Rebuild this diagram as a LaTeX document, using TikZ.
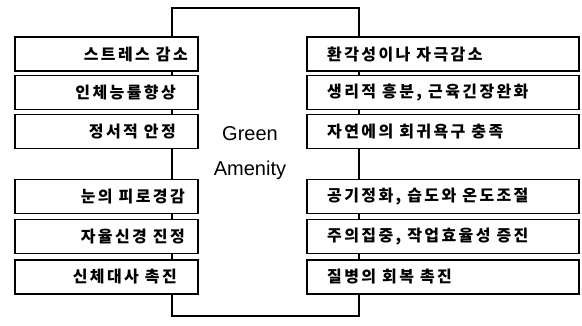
\documentclass[tikz,border=0pt]{standalone}
\usepackage{fontspec}
\setmainfont{Liberation Sans}
\newfontfamily\kr{Noto Sans CJK KR}[LetterSpace=15]
\tikzset{
  frame/.style={draw=black, line width=2pt, minimum width=187pt, minimum height=308pt, inner sep=0pt},
  lbox/.style={draw=black, fill=white, line width=1.3pt, minimum width=183pt, minimum height=34pt, inner sep=0pt},
  rbox/.style={draw=black, fill=white, line width=1.3pt, minimum width=272pt, minimum height=34pt, inner sep=0pt},
  ktxt/.style={font=\kr\bfseries\fontsize{16}{18}\selectfont, inner sep=0pt},
  gtxt/.style={font=\fontsize{20}{22}\selectfont, inner sep=0pt}
}
\begin{document}
\begin{tikzpicture}[x=1pt,y=-1pt]
\useasboundingbox (0,0) rectangle (582,325);
\node[frame] (amen) at (265.5,161.5) {};
% left boxes
\node[lbox] (l1) at (106.5,54) {};
\node[lbox] (l2) at (106.5,92.5) {};
\node[lbox] (l3) at (106.5,131.5) {};
\node[lbox] (l4) at (106.5,196.5) {};
\node[lbox] (l5) at (106.5,236.5) {};
\node[lbox] (l6) at (106.5,277) {};
% right boxes
\node[rbox] (r1) at (443,54) {};
\node[rbox] (r2) at (443,92.5) {};
\node[rbox] (r3) at (443,131.5) {};
\node[rbox] (r4) at (443,196.5) {};
\node[rbox] (r5) at (443,236.5) {};
\node[rbox] (r6) at (443,277) {};
% left texts
\node[ktxt, anchor=east] (tl1) at (188,54) {스트레스 감소};
\node[ktxt, anchor=east] (tl2) at (176,92.5) {인체능률향상};
\node[ktxt, anchor=east] (tl3) at (176,131.5) {정서적 안정};
\node[ktxt, anchor=east] (tl4) at (185,196.5) {눈의 피로경감};
\node[ktxt, anchor=east] (tl5) at (185,236.5) {자율신경 진정};
\node[ktxt, anchor=east] (tl6) at (177,277) {신체대사 촉진};
% right texts
\node[ktxt, anchor=west] (tr1) at (327,54) {환각성이나 자극감소};
\node[ktxt, anchor=west] (tr2) at (327,92.5) {생리적 흥분, 근육긴장완화};
\node[ktxt, anchor=west] (tr3) at (327,131.5) {자연에의 회귀욕구 충족};
\node[ktxt, anchor=west] (tr4) at (327,196.5) {공기정화, 습도와 온도조절};
\node[ktxt, anchor=west] (tr5) at (327,236.5) {주의집중, 작업효율성 증진};
\node[ktxt, anchor=west] (tr6) at (327,277) {질병의 회복 촉진};
% centre label
\node[gtxt, anchor=base] (g1) at (250,140) {Green};
\node[gtxt, anchor=base] (g2) at (250,175) {Amenity};
\end{tikzpicture}
\end{document}
